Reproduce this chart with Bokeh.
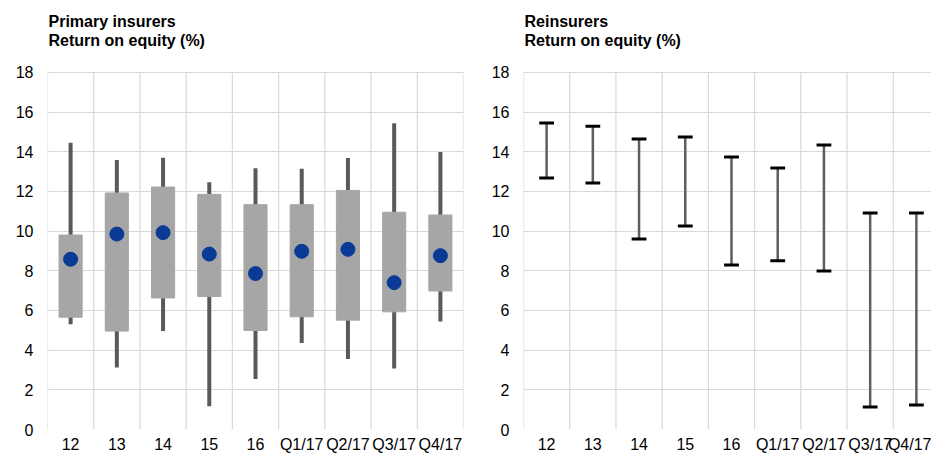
from bokeh.plotting import figure
from bokeh.layouts import row
from bokeh.models import FixedTicker, Range1d, Label
from bokeh.embed import file_html
from bokeh.resources import INLINE

categories = ["12", "13", "14", "15", "16", "Q1/17", "Q2/17", "Q3/17", "Q4/17"]

# Primary insurers
prim_whisker_low = [5.31, 3.13, 4.97, 1.17, 2.55, 4.36, 3.55, 3.08, 5.44]
prim_box_low = [5.66, 4.96, 6.63, 6.70, 4.99, 5.68, 5.51, 5.93, 6.98]
prim_box_high = [9.80, 11.92, 12.22, 11.85, 11.33, 11.33, 12.05, 10.95, 10.81]
prim_whisker_high = [14.45, 13.58, 13.70, 12.46, 13.16, 13.14, 13.68, 15.44, 13.98]
prim_median = [8.58, 9.85, 9.92, 8.84, 7.86, 8.98, 9.08, 7.40, 8.76]

# Reinsurers
re_low = [12.68, 12.42, 9.60, 10.26, 8.29, 8.50, 7.99, 1.14, 1.24]
re_high = [15.45, 15.28, 14.64, 14.74, 13.73, 13.18, 14.34, 10.91, 10.91]

y_ticks = [0, 2, 4, 6, 8, 10, 12, 14, 16, 18]

FONT = "Liberation Sans"
GRID = "#D9D9D9"
Y_MAX = 18
Y_TOP = Y_MAX * 430 / 358  # frame extends above the grid to hold the titles

xpos = [i + 0.5 for i in range(len(categories))]
bounds = list(range(len(categories) + 1))


def make_fig(title1, title2, width, min_left, min_right, x_end):
    p = figure(width=width, height=455, output_backend="svg", toolbar_location=None,
               x_range=Range1d(0, x_end), y_range=Range1d(0, Y_TOP),
               min_border_left=min_left, min_border_right=min_right,
               min_border_top=0, min_border_bottom=25)
    for txt, off in ((title1, 51), (title2, 32)):
        p.add_layout(Label(x=0, y=Y_MAX, x_units="data", y_units="data", x_offset=1, y_offset=off,
                           text=txt, text_font=FONT, text_font_size="16px",
                           text_font_style="bold", text_color="#000000",
                           text_baseline="middle", text_align="left"))
    p.outline_line_color = None
    p.background_fill_color = "white"
    p.border_fill_color = "white"
    for ax in (p.xaxis[0], p.yaxis[0]):
        ax.axis_line_color = None
        ax.major_tick_line_color = None
        ax.minor_tick_line_color = None
        ax.major_tick_out = 0
        ax.major_tick_in = 0
        ax.minor_tick_out = 0
        ax.minor_tick_in = 0
        ax.major_label_text_font = FONT
        ax.major_label_text_font_size = "16px"
        ax.major_label_text_color = "#000000"
    p.yaxis.ticker = FixedTicker(ticks=y_ticks)
    p.yaxis.major_label_standoff = 14
    p.xaxis.ticker = FixedTicker(ticks=xpos)
    p.xaxis.major_label_overrides = {x: c for x, c in zip(xpos, categories)}
    p.xaxis.major_label_standoff = 6
    p.xgrid.grid_line_color = None
    # vertical category separators, limited to the 0..18 grid area
    p.segment(x0=bounds, y0=[0] * len(bounds), x1=bounds, y1=[Y_MAX] * len(bounds),
              line_color=GRID, line_width=1.2, level="underlay")
    p.ygrid.ticker = FixedTicker(ticks=y_ticks)
    p.ygrid.grid_line_color = GRID
    p.ygrid.grid_line_width = 1.2
    return p


p1 = make_fig("Primary insurers", "Return on equity (%)", 487, 47, 24, 9)
p1.segment(x0=xpos, y0=prim_whisker_low, x1=xpos, y1=prim_whisker_high,
           line_color="#595959", line_width=4)
p1.vbar(x=xpos, width=0.5, bottom=prim_box_low, top=prim_box_high,
        fill_color="#A6A6A6", line_color="#A6A6A6")
p1.scatter(x=xpos, y=prim_median, size=14, fill_color="#0A3A96", line_color="#0A3A96")

p2 = make_fig("Reinsurers", "Return on equity (%)", 444, 36, 0, 9 * 408 / 416)
p2.segment(x0=xpos, y0=re_low, x1=xpos, y1=re_high, line_color="#5E5E5E", line_width=2.5)
cap_w = 0.32
p2.segment(x0=[x - cap_w / 2 for x in xpos], y0=re_low, x1=[x + cap_w / 2 for x in xpos], y1=re_low,
           line_color="#000000", line_width=3)
p2.segment(x0=[x - cap_w / 2 for x in xpos], y0=re_high, x1=[x + cap_w / 2 for x in xpos], y1=re_high,
           line_color="#000000", line_width=3)

layout = row(p1, p2, spacing=0)
open("out.html", "w").write(file_html(layout, INLINE))
